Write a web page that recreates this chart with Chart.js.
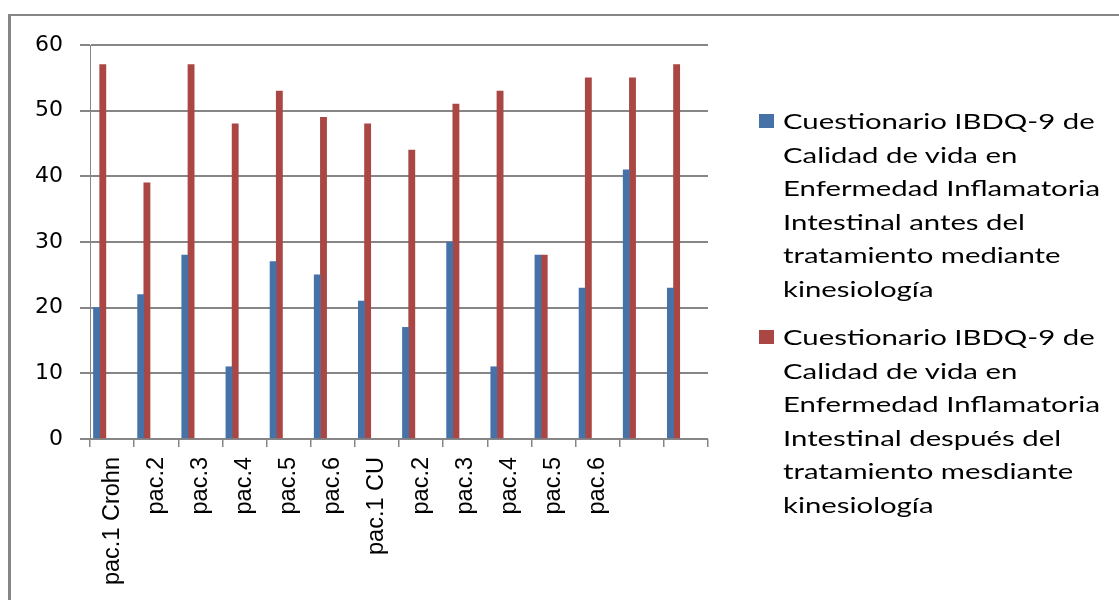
<!DOCTYPE html>
<html>
<head>
<meta charset="utf-8">
<script src="https://cdn.jsdelivr.net/npm/chart.js@4.4.1/dist/chart.umd.min.js"></script>
<style>
  html, body { margin: 0; padding: 0; background: #fff; overflow: hidden; }
  #wrap { position: relative; width: 1119px; height: 600px; }
  #frame { position: absolute; left: 8px; top: 14px; width: 1200px; height: 700px;
           border-left: 3px solid #868686; border-top: 2px solid #868686; box-sizing: border-box; }
  #chart { position: absolute; left: 0; top: 0; }
  .legend-item { position: absolute; left: 759px; }
  .swatch { position: absolute; left: 0; width: 15px; height: 14px; }
  .legend-text { position: absolute; left: 24px; top: 0; font-family: Lato, "Open Sans", sans-serif;
                 font-size: 21px; line-height: 33.5px; color: #000; white-space: nowrap;
                 transform-origin: 0 0; }
  .legend-text div { white-space: nowrap; }
</style>
</head>
<body>
<div id="wrap">
  <div id="frame"></div>
  <canvas id="chart" width="1119" height="600"></canvas>
  <div id="legend"></div>
</div>
<script>
// Patients (Crohn's disease group, then ulcerative colitis group)
const categories = ["pac.1 Crohn", "pac.2", "pac.3", "pac.4", "pac.5", "pac.6",
                    "pac.1 CU", "pac.2", "pac.3", "pac.4", "pac.5", "pac.6", "", ""];

// IBDQ-9 scores before treatment
const scoresBefore = [20, 22, 28, 11, 27, 25, 21, 17, 30, 11, 28, 23, 41, 23];
// IBDQ-9 scores after treatment
const scoresAfter  = [57, 39, 57, 48, 53, 49, 48, 44, 51, 53, 28, 55, 55, 57];

const yTicks = [0, 10, 20, 30, 40, 50, 60];

const seriesNameLines = [
  ["Cuestionario IBDQ-9 de", "Calidad de vida en", "Enfermedad Inflamatoria",
   "Intestinal antes del", "tratamiento mediante", "kinesiología"],
  ["Cuestionario IBDQ-9 de", "Calidad de vida en", "Enfermedad Inflamatoria",
   "Intestinal después del", "tratamiento mesdiante", "kinesiología"]
];
const seriesColors = ["#4672A8", "#AA4643"];

// Empty groups keep the two bars at the left side of each category slot
const spacer = () => ({ label: "", data: [], backgroundColor: "rgba(0,0,0,0)", borderWidth: 0 });

const AXIS_GRAY = "#868686";

new Chart(document.getElementById("chart"), {
  type: "bar",
  data: {
    labels: categories,
    datasets: [
      { label: seriesNameLines[0].join(" "), data: scoresBefore, backgroundColor: seriesColors[0], borderWidth: 0 },
      { label: seriesNameLines[1].join(" "), data: scoresAfter, backgroundColor: seriesColors[1], borderWidth: 0 },
      spacer(), spacer(), spacer(), spacer()
    ]
  },
  options: {
    responsive: false,
    animation: false,
    events: [],
    layout: { padding: { left: 0, top: 45, right: 411, bottom: 0 } },
    datasets: { bar: { barThickness: 6.2 } },
    plugins: { legend: { display: false }, tooltip: { enabled: false } },
    scales: {
      x: {
        offset: true,
        grid: { offset: true, drawOnChartArea: false, color: AXIS_GRAY, lineWidth: 1.5, tickLength: 8 },
        border: { display: false },
        ticks: {
          autoSkip: false, minRotation: 90, maxRotation: 90, padding: 10,
          color: "#000", font: { family: "Liberation Sans", size: 23.5 }
        },
        afterFit: (s) => { s.height = 161; }
      },
      y: {
        min: yTicks[0], max: yTicks[yTicks.length - 1],
        afterBuildTicks: (s) => { s.ticks = yTicks.map(v => ({ value: v })); },
        grid: { color: AXIS_GRAY, lineWidth: 2, tickLength: 10 },
        border: { display: true, color: AXIS_GRAY, width: 1 },
        ticks: { padding: 17, color: "#000", font: { family: "DejaVu Sans", size: 22 } },
        afterFit: (s) => { s.width = 90; }
      }
    }
  }
});

// Legend with wrapped series names
const legend = document.getElementById("legend");
const blockTops = [104, 320];
seriesNameLines.forEach((lines, i) => {
  const item = document.createElement("div");
  item.className = "legend-item";
  item.style.top = blockTops[i] + "px";
  const sw = document.createElement("div");
  sw.className = "swatch";
  sw.style.background = seriesColors[i];
  sw.style.top = "10px";
  item.appendChild(sw);
  const txt = document.createElement("div");
  txt.className = "legend-text";
  lines.forEach(l => { const d = document.createElement("div"); d.textContent = l; txt.appendChild(d); });
  item.appendChild(txt);
  legend.appendChild(item);
});
// Widen legend text so the longest line spans 317px
document.querySelectorAll(".legend-text").forEach(t => {
  let w = 0;
  t.querySelectorAll("div").forEach(d => {
    const r = document.createRange(); r.selectNodeContents(d);
    w = Math.max(w, r.getBoundingClientRect().width);
  });
  if (w > 0) t.style.transform = "scaleX(" + (317 / w) + ")";
});
</script>
</body>
</html>
